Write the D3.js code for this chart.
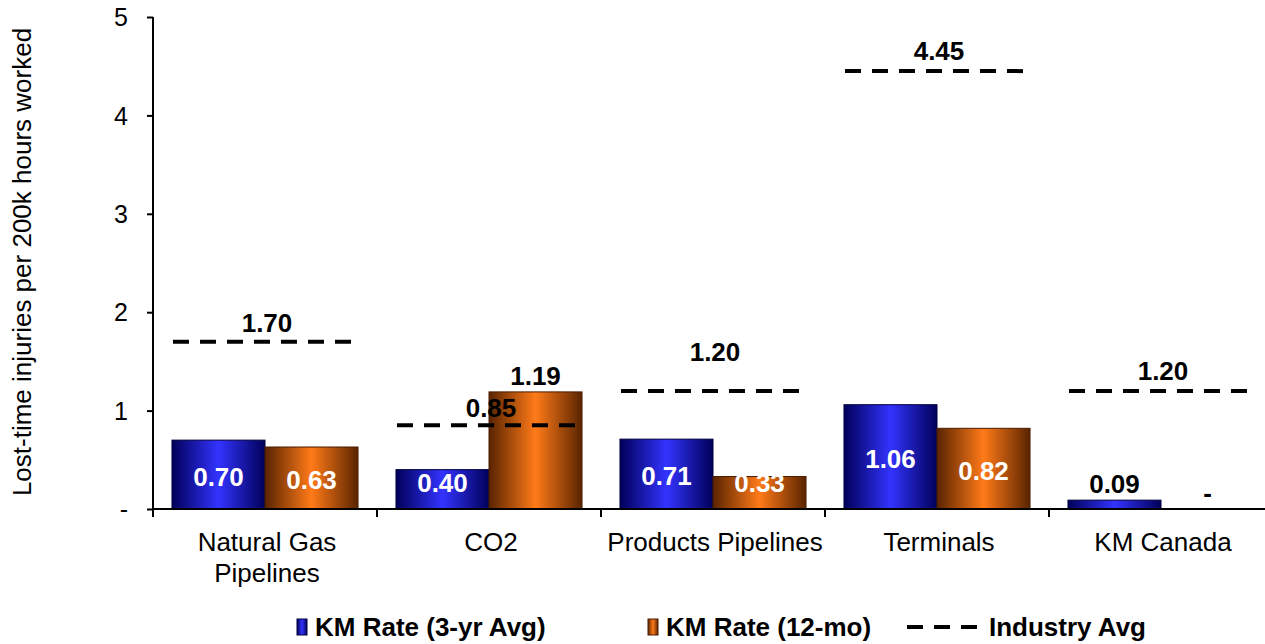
<!DOCTYPE html>
<html><head><meta charset="utf-8">
<script src="https://cdn.jsdelivr.net/npm/d3@7"></script>
<style>body{margin:0;background:#fff}svg{display:block}text{font-family:Arial,"Liberation Sans",sans-serif}</style>
</head><body><svg id="c" width="1265" height="644"></svg>
<script>
const categories = ["Natural Gas\nPipelines", "CO2", "Products Pipelines", "Terminals", "KM Canada"];
const rate3yr = [0.70, 0.40, 0.71, 1.06, 0.09];
const rate12mo = [0.63, 1.19, 0.33, 0.82, 0.00];
const industryAvg = [1.70, 0.85, 1.20, 4.45, 1.20];
const yTicks = [0, 1, 2, 3, 4, 5];
const yTickLabels = ["-", "1", "2", "3", "4", "5"];
const seriesNames = ["KM Rate (3-yr Avg)", "KM Rate (12-mo)", "Industry Avg"];

const svg = d3.select("#c");
const defs = svg.append("defs");
function grad(id, edge, mid) {
  const g = defs.append("linearGradient").attr("id", id).attr("x1", "0").attr("x2", "1").attr("y1", "0").attr("y2", "0");
  g.append("stop").attr("offset", "0%").attr("stop-color", edge);
  g.append("stop").attr("offset", "50%").attr("stop-color", mid);
  g.append("stop").attr("offset", "100%").attr("stop-color", edge);
}
grad("gBlue", "#00005a", "#3333ff");
grad("gOrange", "#5a2400", "#ff7a18");

const x = d3.scaleBand().domain(d3.range(categories.length)).range([153, 1273]).padding(0);
const xs = d3.scaleBand().domain([0, 1]).range([0, x.bandwidth()]).paddingInner(0).paddingOuter(0.204);
const y = d3.scaleLinear().domain([0, 5]).range([509, 17]);

// axes
const yAxis = d3.axisLeft(y).tickValues(yTicks).tickFormat((d, i) => yTickLabels[i]).tickSize(6).tickPadding(19);
const ga = svg.append("g").attr("transform", "translate(153,0)").call(yAxis);
ga.selectAll("path,line").attr("stroke", "#000").attr("stroke-width", 2);
ga.select(".domain").attr("d", "M0,17V517");
ga.selectAll("text").attr("font-size", 25).attr("fill", "#000").attr("dy", "0.35em");

const series = [
  { vals: rate3yr, fill: "url(#gBlue)", stroke: "#000040", idx: 0 },
  { vals: rate12mo, fill: "url(#gOrange)", stroke: "#4a1c00", idx: 1 }
];
series.forEach(s => {
  svg.append("g").selectAll("rect").data(s.vals).join("rect")
    .attr("x", (d, i) => x(i) + xs(s.idx))
    .attr("width", xs.bandwidth())
    .attr("y", d => y(d))
    .attr("height", d => y(0) - y(d))
    .attr("fill", s.fill)
    .attr("stroke", s.stroke).attr("stroke-width", 1);
});

// x axis line + ticks
svg.append("line").attr("x1", 153).attr("x2", 1265).attr("y1", y(0)).attr("y2", y(0)).attr("stroke", "#000").attr("stroke-width", 2);
svg.append("g").selectAll("line").data(d3.range(categories.length + 1)).join("line")
  .attr("x1", i => 153 + i * x.step()).attr("x2", i => 153 + i * x.step())
  .attr("y1", y(0)).attr("y2", y(0) + 8).attr("stroke", "#000").attr("stroke-width", 2);

// value labels
const outside12 = [false, true, false, false, true];
const outside3 = [false, false, false, false, true];
function fmt(v) { return v === 0 ? "-" : v.toFixed(2); }
series.forEach(s => {
  const outside = s.idx === 0 ? outside3 : outside12;
  svg.append("g").selectAll("text").data(s.vals).join("text")
    .attr("x", (d, i) => x(i) + xs(s.idx) + xs.bandwidth() / 2)
    .attr("y", (d, i) => outside[i] ? y(d) - 7 : Math.min((y(d) + y(0)) / 2 + 2, 483))
    .attr("dy", (d, i) => outside[i] ? "0" : "0.35em")
    .attr("text-anchor", "middle")
    .attr("font-size", 26).attr("font-weight", "bold")
    .attr("fill", (d, i) => outside[i] ? "#000" : "#fff")
    .text(d => fmt(d));
});

// industry dashed lines
svg.append("g").selectAll("line").data(industryAvg).join("line")
  .attr("x1", (d, i) => x(i) + xs(0) + 1)
  .attr("x2", (d, i) => x(i) + xs(1) + xs.bandwidth() - 2)
  .attr("y1", d => y(d)).attr("y2", d => y(d))
  .attr("stroke", "#000").attr("stroke-width", 4).attr("stroke-dasharray", "16,11");
const indLift = [10, 8, 30, 11, 11];
svg.append("g").selectAll("text").data(industryAvg).join("text")
  .attr("x", (d, i) => x(i) + x.bandwidth() / 2 + 2)
  .attr("y", (d, i) => y(d) - indLift[i])
  .attr("text-anchor", "middle").attr("font-size", 26).attr("font-weight", "bold").attr("fill", "#000")
  .text(d => d.toFixed(2));

// category labels
const cg = svg.append("g");
categories.forEach((c, i) => {
  const t = cg.append("text").attr("x", x(i) + x.bandwidth() / 2 + 2).attr("y", 551)
    .attr("text-anchor", "middle").attr("font-size", 26).attr("fill", "#000");
  c.split("\n").forEach((ln, j) => t.append("tspan").attr("x", x(i) + x.bandwidth() / 2 + 2).attr("dy", j ? 31 : 0).text(ln));
});

// y title
svg.append("text").attr("transform", "translate(31,262) rotate(-90)").attr("text-anchor", "middle")
  .attr("font-size", 26).attr("fill", "#000").text("Lost-time injuries per 200k hours worked");

// legend
const lg = svg.append("g").attr("font-size", 26).attr("font-weight", "bold");
lg.append("rect").attr("x", 297).attr("y", 619).attr("width", 10).attr("height", 16).attr("fill", "url(#gBlue)").attr("stroke", "#000040");
lg.append("text").attr("x", 315).attr("y", 636).text(seriesNames[0]);
lg.append("rect").attr("x", 648).attr("y", 619).attr("width", 10).attr("height", 16).attr("fill", "url(#gOrange)").attr("stroke", "#4a1c00");
lg.append("text").attr("x", 666).attr("y", 636).text(seriesNames[1]);
lg.append("line").attr("x1", 907).attr("x2", 986).attr("y1", 627).attr("y2", 627).attr("stroke", "#000").attr("stroke-width", 4).attr("stroke-dasharray", "16,11");
lg.append("text").attr("x", 989).attr("y", 636).text(seriesNames[2]);
</script></body></html>
